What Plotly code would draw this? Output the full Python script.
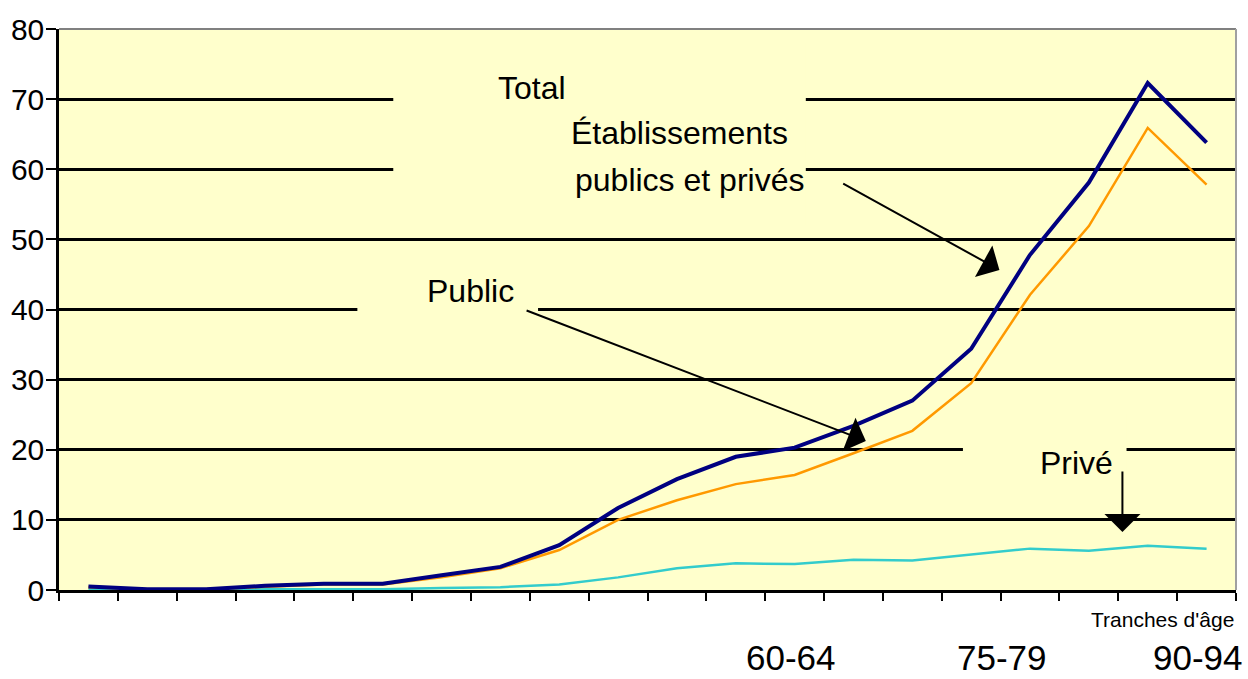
import plotly.graph_objects as go

age_groups = ["0-4", "5-9", "10-14", "15-19", "20-24", "25-29", "30-34", "35-39",
              "40-44", "45-49", "50-54", "55-59", "60-64", "65-69", "70-74", "75-79",
              "80-84", "85-89", "90-94", "95-99"]
total = [0.5, 0.1, 0.1, 0.6, 0.9, 0.9, 2.1, 3.3, 6.4, 11.7, 15.8, 19.0, 20.3, 23.4,
         27.0, 34.4, 47.8, 58.1, 72.3, 63.8]
public = [0.4, 0.1, 0.1, 0.5, 0.8, 0.8, 1.8, 3.1, 5.7, 10.0, 12.8, 15.1, 16.4, 19.5,
          22.7, 29.5, 42.1, 51.9, 65.9, 57.8]
prive = [0.1, 0.1, 0.1, 0.1, 0.1, 0.1, 0.3, 0.4, 0.8, 1.8, 3.1, 3.8, 3.7, 4.3,
         4.2, 5.1, 5.9, 5.6, 6.3, 5.9]
shown_labels = ["60-64", "75-79", "90-94"]
y_ticks = [0, 10, 20, 30, 40, 50, 60, 70, 80]

xpos = [i + 0.5 for i in range(len(age_groups))]
FONT = "Liberation Sans, Arial, sans-serif"
BG = "#FFFFCC"

fig = go.Figure()
fig.add_trace(go.Scatter(x=xpos, y=prive, mode="lines", name="Privé",
                         line=dict(color="#33CCCC", width=2.5)))
fig.add_trace(go.Scatter(x=xpos, y=public, mode="lines", name="Public",
                         line=dict(color="#FF9900", width=2.5)))
fig.add_trace(go.Scatter(x=xpos, y=total, mode="lines", name="Total",
                         line=dict(color="#000080", width=4)))

# masks interrupting gridlines behind labels
for x0, x1, y0, y1 in [(5.68, 12.69, 52, 78), (5.07, 8.14, 35, 45), (15.36, 18.14, 15, 25)]:
    fig.add_shape(type="rect", xref="x", yref="y", x0=x0, x1=x1, y0=y0, y1=y1,
                  fillcolor=BG, line=dict(width=0), layer="between")

# top/right gray border
fig.add_shape(type="line", xref="paper", yref="paper", x0=0, x1=1, y0=1, y1=1,
              line=dict(color="#808080", width=2))
fig.add_shape(type="line", xref="paper", yref="paper", x0=1, x1=1, y0=0, y1=1,
              line=dict(color="#A0A0A0", width=2))

texts = [
    ("Total", 8.04, 71.6),
    ("Établissements", 10.55, 65.2),
    ("publics et privés", 10.72, 58.5),
    ("Public", 6.99, 42.7),
    ("Privé", 17.29, 18.1),
]
for t, x, y in texts:
    fig.add_annotation(text=t, x=x, y=y, xref="x", yref="y", showarrow=False,
                       font=dict(family=FONT, size=32, color="black"))

arrows = [
    (15.98, 45.65, 13.30, 58.06),
    (13.71, 21.26, 7.92, 39.94),
    (18.07, 8.27, 18.07, 17.1),
]
for x, y, ax, ay in arrows:
    fig.add_annotation(text="", x=x, y=y, ax=ax, ay=ay, xref="x", yref="y",
                       axref="x", ayref="y", showarrow=True, arrowhead=1,
                       arrowsize=3, arrowwidth=2, arrowcolor="black")

label_x = [12.44, 16.02, 19.36]
for t, x in zip(shown_labels, label_x):
    fig.add_annotation(text=t, x=x, y=-0.1586, xref="x", yref="paper", showarrow=False,
                       yanchor="bottom", font=dict(family=FONT, size=35, color="black"))

fig.add_annotation(text="Tranches d'âge", x=1, y=-0.052, xref="paper", yref="paper",
                   xanchor="right", yanchor="middle", showarrow=False,
                   font=dict(family=FONT, size=21, color="black"))

fig.update_layout(
    width=1248, height=679,
    margin=dict(l=58.5, r=12, t=29, b=89, autoexpand=False),
    paper_bgcolor="white", plot_bgcolor=BG,
    showlegend=False,
    font=dict(family=FONT, color="black"),
)
fig.update_xaxes(range=[0, 20], tickvals=list(range(21)), showticklabels=False,
                 ticks="outside", ticklen=8, tickwidth=2, tickcolor="black",
                 showgrid=False, zeroline=False, showline=True, linecolor="black",
                 linewidth=2.5, automargin=False)
fig.update_yaxes(range=[0, 80], tickvals=y_ticks, ticks="outside", ticklen=10,
                 tickwidth=2, tickcolor="black", tickfont=dict(size=30, family=FONT),
                 ticklabelstandoff=-4,
                 showgrid=True, gridcolor="black", gridwidth=2.5, zeroline=False,
                 showline=True, linecolor="black", linewidth=2.5, automargin=False)

fig.write_html("out.html", post_script="document.body.style.margin='0';",
               config={"displayModeBar": False})
